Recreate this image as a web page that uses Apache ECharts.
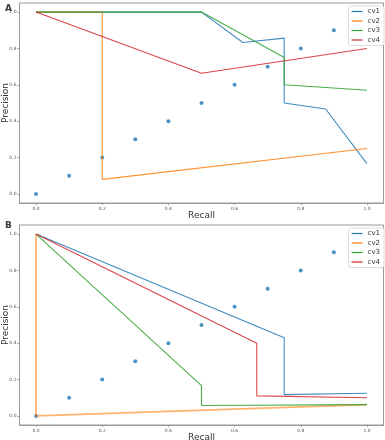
<!DOCTYPE html>
<html lang="en">
<head>
    <meta charset="UTF-8">
    <title>PR curves</title>
    <style>
        html, body { margin: 0; padding: 0; background: #fff; }
    </style>
</head>
<body>
<div id="main" style="width: 385px;height:440px;"></div>
<script type="text/javascript" src="https://cdn.jsdelivr.net/npm/echarts@6/dist/echarts.min.js"></script>
<script>
    // tick positions / labels
    var tickVals = [0, 0.2, 0.4, 0.6, 0.8, 1.0];
    var tickLabels = ['0.0', '0.2', '0.4', '0.6', '0.8', '1.0'];

    // dotted reference points
    var dotVals = [0, 0.1, 0.2, 0.3, 0.4, 0.5, 0.6, 0.7, 0.8, 0.9];

    var names = ['cv1', 'cv2', 'cv3', 'cv4'];
    var colors = ['#1f77b4', '#ff7f0e', '#2ca02c', '#d62728'];

    // panel A  (recall, precision)
    var a_cv1_r = [0, 0.5, 0.625, 0.75, 0.75, 0.875, 1.0];
    var a_cv1_p = [1, 1, 0.833, 0.857, 0.5, 0.467, 0.167];
    var a_cv2_r = [0, 0.2, 0.2, 1.0];
    var a_cv2_p = [1, 1, 0.08, 0.25];
    var a_cv3_r = [0, 0.5, 0.75, 0.75, 1.0];
    var a_cv3_p = [1, 1, 0.75, 0.6, 0.57];
    var a_cv4_r = [0, 0.5, 1.0];
    var a_cv4_p = [1, 0.664, 0.8];

    // panel B
    var b_cv1_r = [0, 0.75, 0.75, 1.0];
    var b_cv1_p = [1, 0.43, 0.117, 0.125];
    var b_cv2_r = [0, 0, 1.0];
    var b_cv2_p = [1, 0, 0.062];
    var b_cv3_r = [0, 0.5, 0.5, 1.0];
    var b_cv3_p = [1, 0.167, 0.057, 0.062];
    var b_cv4_r = [0, 0.667, 0.667, 1.0];
    var b_cv4_p = [1, 0.4, 0.11, 0.1];

    function zip(r, p) {
        var out = [];
        for (var i = 0; i < r.length; i++) out.push([r[i], p[i]]);
        return out;
    }

    var frame = '#9a9a9a';

    function axis(idx, isX) {
        return {
            type: 'value',
            gridIndex: idx,
            min: -0.05,
            max: 1.05,
            name: isX ? 'Recall' : 'Precision',
            nameLocation: 'middle',
            nameGap: isX ? 8 : 9,
            nameMoveOverlap: false,
            nameTextStyle: { fontFamily: 'DejaVu Sans', fontSize: 9, color: '#333' },
            axisLine: { show: true, onZero: false, lineStyle: { color: frame, width: 1 } },
            axisTick: { show: true, length: 2, customValues: tickVals, lineStyle: { color: frame } },
            axisLabel: {
                customValues: tickVals,
                fontSize: 4.5, color: '#555', margin: 3,
                fontFamily: 'DejaVu Sans',
                formatter: function (v) {
                    var i = tickVals.indexOf(v);
                    return i >= 0 ? tickLabels[i] : '';
                }
            },
            splitLine: { show: false }
        };
    }

    var myChart = echarts.init(document.getElementById('main'));

    var series = [];
    var panels = [
        [[a_cv1_r, a_cv1_p], [a_cv2_r, a_cv2_p], [a_cv3_r, a_cv3_p], [a_cv4_r, a_cv4_p]],
        [[b_cv1_r, b_cv1_p], [b_cv2_r, b_cv2_p], [b_cv3_r, b_cv3_p], [b_cv4_r, b_cv4_p]]
    ];
    panels.forEach(function (curves, g) {
        series.push({
            type: 'scatter', xAxisIndex: g, yAxisIndex: g,
            symbolSize: 4, itemStyle: { color: '#1f77b4' },
            data: zip(dotVals, dotVals), silent: true
        });
        curves.forEach(function (c, k) {
            series.push({
                name: names[k], type: 'line', xAxisIndex: g, yAxisIndex: g,
                showSymbol: false, symbol: 'none',
                lineStyle: { color: colors[k], width: (g == 1 && k == 1) ? 1.8 : 1.1, opacity: (g == 1 && k == 1) ? 0.6 : 0.85 },
                itemStyle: { color: colors[k] },
                data: zip(c[0], c[1])
            });
        });
    });

    var legendBase = {
        orient: 'vertical', right: 1,
        data: names,
        itemWidth: 11, itemHeight: 1.2, itemGap: 2.5,
        icon: 'rect',
        textStyle: { fontSize: 7, color: '#333', fontFamily: 'DejaVu Sans' },
        backgroundColor: '#fff', borderColor: '#ddd', borderWidth: 1, borderRadius: 2,
        padding: [2, 4, 2, 3]
    };

    var option = {
        animation: false,
        title: [
            { text: 'A', left: 0, top: -1, textStyle: { fontSize: 9, fontWeight: 'bold', fontFamily: 'DejaVu Sans' } },
            { text: 'B', left: 0, top: 216, textStyle: { fontSize: 9, fontWeight: 'bold', fontFamily: 'DejaVu Sans' } }
        ],
        legend: [
            Object.assign({}, legendBase, { top: 6 }),
            Object.assign({}, legendBase, { top: 228 })
        ],
        grid: [
            { left: 19.5, right: 1.5, top: 3, bottom: 237, show: true, borderColor: frame, borderWidth: 1, containLabel: false, outerBoundsMode: 'none' },
            { left: 19.5, right: 1.5, top: 225, bottom: 15, show: true, borderColor: frame, borderWidth: 1, containLabel: false, outerBoundsMode: 'none' }
        ],
        xAxis: [axis(0, true), axis(1, true)],
        yAxis: [axis(0, false), axis(1, false)],
        series: series
    };

    myChart.setOption(option);
</script>
</body>
</html>
